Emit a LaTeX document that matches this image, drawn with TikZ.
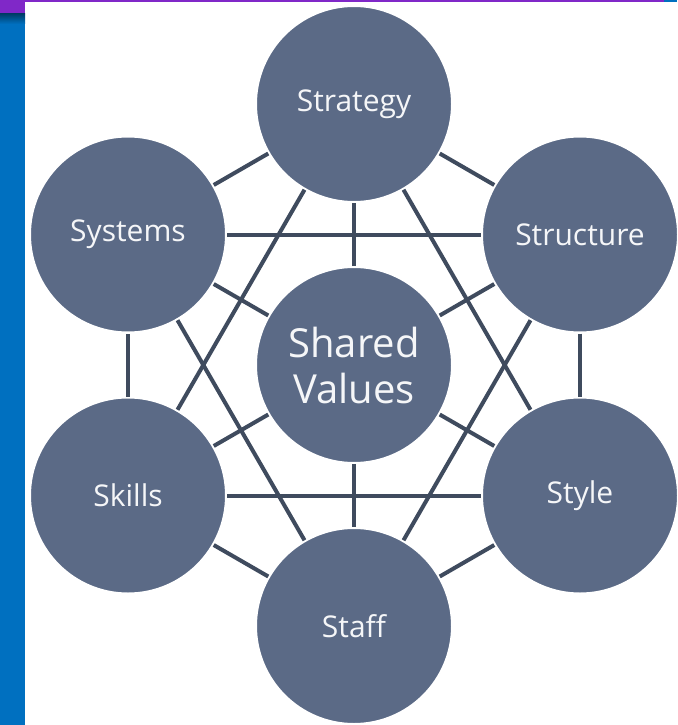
\documentclass[tikz,border=0pt]{standalone}
\usepackage{fontspec}
\setmainfont{Open Sans}

\definecolor{bandblue}{HTML}{0070C0}
\definecolor{bandpurple}{HTML}{8028C8}
\definecolor{unitfill}{HTML}{5B6A86}
\definecolor{linkgray}{HTML}{3F4B5E}

\begin{document}
\begin{tikzpicture}[x=1pt,y=-1pt,
    unit/.style={circle,fill=unitfill,draw=white,line width=2pt,
        minimum size=196pt,inner sep=0pt,text=white!94!unitfill,align=center,
        font=\fontsize{30}{36}\selectfont},
    link/.style={draw=linkgray,line width=4pt}]

\useasboundingbox (0,0) rectangle (677,725);

% frame of the slide
\fill[white] (0,0) rectangle (677,725);
\fill[bandblue] (0,0) rectangle (25,725);
\fill[bandpurple] (0,0) rectangle (677,2.5);
\fill[bandpurple] (0,0) rectangle (25,14);
\shade[top color=bandblue!55!black,bottom color=bandblue] (0,14) rectangle (25,24);
\fill[bandblue] (664,0) rectangle (677,2.5);

\node[unit,font=\fontsize{40}{46}\selectfont] (values) at (354,365) {Shared\\Values};

\node[unit] (strategy)  at (354,104)   {Strategy};
\node[unit] (structure) at (580,234.5) {Structure};
\node[unit] (style)     at (580,495.5) {Style};
\node[unit] (staff)     at (354,626)   {Staff};
\node[unit] (skills)    at (128,495.5) {Skills};
\node[unit] (systems)   at (128,234.5) {Systems};

\foreach \a/\b in {strategy/structure,structure/style,style/staff,
                   staff/skills,skills/systems,systems/strategy}
    \draw[link] (\a) -- (\b);

\foreach \a/\b in {strategy/skills,strategy/style,systems/structure,
                   skills/style,systems/staff,structure/staff}
    \draw[link] (\a) -- (\b);

\foreach \i in {strategy,structure,style,staff,skills,systems}
    \draw[link] (values) -- (\i);

\end{tikzpicture}
\end{document}
